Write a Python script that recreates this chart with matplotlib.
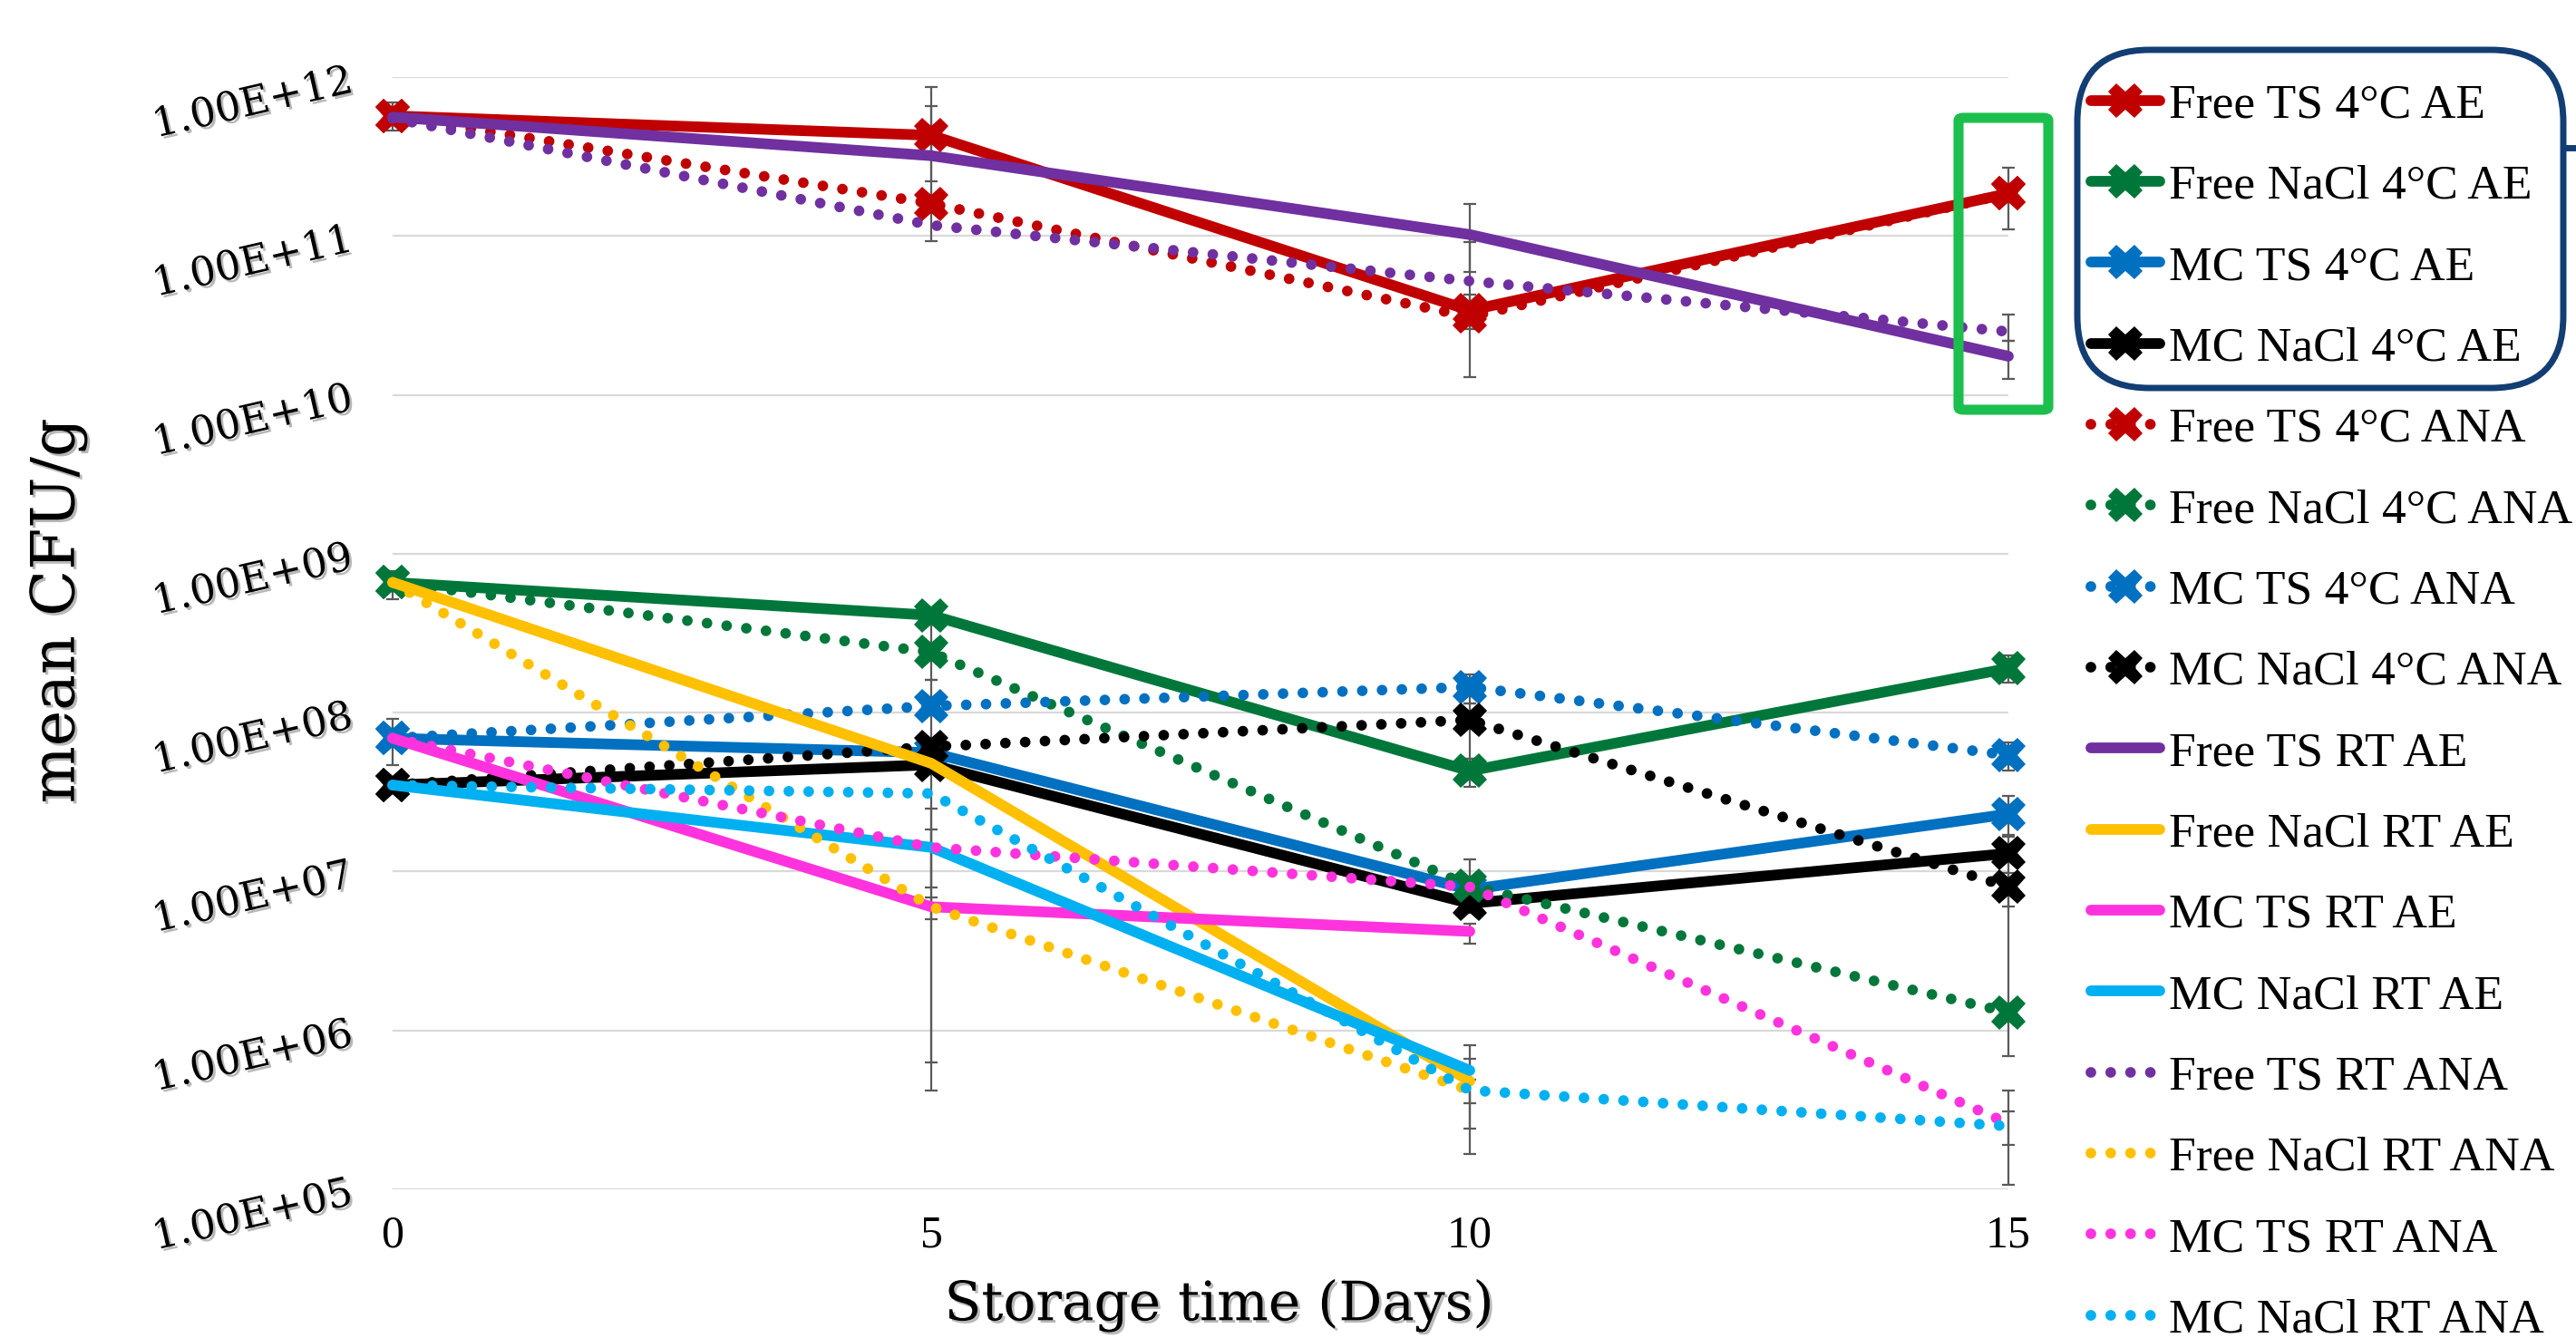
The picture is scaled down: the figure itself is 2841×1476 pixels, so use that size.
import numpy as np
import matplotlib
matplotlib.use("Agg")
import matplotlib.pyplot as plt
from matplotlib.patches import FancyBboxPatch
from matplotlib.lines import Line2D
from matplotlib.ticker import NullLocator
import matplotlib.patheffects as pe
import matplotlib.transforms as mtrans

nan = np.nan

# ---------------- data ----------------
days = [0, 5, 10, 15]
x_tick_labels = ["0", "5", "10", "15"]
y_ticks = [1e5, 1e6, 1e7, 1e8, 1e9, 1e10, 1e11, 1e12]
y_tick_labels = ["1.00E+05", "1.00E+06", "1.00E+07", "1.00E+08",
                 "1.00E+09", "1.00E+10", "1.00E+11", "1.00E+12"]

series_labels = [
    "Free TS 4°C AE", "Free NaCl 4°C AE", "MC TS 4°C AE", "MC NaCl 4°C AE",
    "Free TS 4°C ANA", "Free NaCl 4°C ANA", "MC TS 4°C ANA", "MC NaCl 4°C ANA",
    "Free TS RT AE", "Free NaCl RT AE", "MC TS RT AE", "MC NaCl RT AE",
    "Free TS RT ANA", "Free NaCl RT ANA", "MC TS RT ANA", "MC NaCl RT ANA",
]

free_ts_4c_ae = [5.7e11, 4.3e11, 3.4e10, 1.85e11]
free_nacl_4c_ae = [6.6e8, 4.1e8, 4.3e7, 1.9e8]
mc_ts_4c_ae = [6.9e7, 5.6e7, 7.7e6, 2.3e7]
mc_nacl_4c_ae = [3.5e7, 4.7e7, 6.3e6, 1.3e7]
free_ts_4c_ana = [5.7e11, 1.6e11, 3.1e10, 1.85e11]
free_nacl_4c_ana = [6.6e8, 2.4e8, 8.1e6, 1.3e6]
mc_ts_4c_ana = [6.9e7, 1.1e8, 1.45e8, 5.4e7]
mc_nacl_4c_ana = [3.5e7, 6.1e7, 9.0e7, 8.0e6]
free_ts_rt_ae = [5.6e11, 3.2e11, 1.02e11, 1.75e10]
free_nacl_rt_ae = [6.6e8, 4.8e7, 4.8e5, nan]
mc_ts_rt_ae = [6.9e7, 6.0e6, 4.2e6, nan]
mc_nacl_rt_ae = [3.5e7, 1.42e7, 5.6e5, nan]
free_ts_rt_ana = [5.5e11, 1.17e11, 5.2e10, 2.5e10]
free_nacl_rt_ana = [6.6e8, 6.0e6, 4.2e5, nan]
mc_ts_rt_ana = [6.9e7, 1.42e7, 8.0e6, 2.6e5]
mc_nacl_rt_ana = [3.5e7, 3.1e7, 4.2e5, 2.5e5]

series_values = [
    free_ts_4c_ae, free_nacl_4c_ae, mc_ts_4c_ae, mc_nacl_4c_ae,
    free_ts_4c_ana, free_nacl_4c_ana, mc_ts_4c_ana, mc_nacl_4c_ana,
    free_ts_rt_ae, free_nacl_rt_ae, mc_ts_rt_ae, mc_nacl_rt_ae,
    free_ts_rt_ana, free_nacl_rt_ana, mc_ts_rt_ana, mc_nacl_rt_ana,
]

# error bar ends (low, high) per series, nan where no bar is visible
err_low = [
    [4.6e11, 2.2e11, 2.6e10, 1.1e11],
    [5.2e8, nan, 3.4e7, 1.55e8],
    [4.7e7, nan, nan, 1.66e7],
    [nan, nan, nan, 6.0e6],
    [nan, 9.3e10, 1.3e10, nan],
    [nan, 1.6e8, 5.5e6, 6.9e5],
    [nan, nan, 1.15e8, 4.3e7],
    [nan, nan, 5.1e7, nan],
    [nan, nan, 5.9e10, 1.26e10],
    [nan, nan, nan, nan],
    [nan, 6.3e5, 3.5e6, nan],
    [nan, 5.0e6, 3.5e5, nan],
    [nan, nan, nan, 2.2e10],
    [nan, 4.2e5, 2.4e5, nan],
    [nan, 7.9e6, nan, 1.9e5],
    [nan, nan, 1.66e5, 1.07e5],
]
err_high = [
    [6.9e11, 8.7e11, 4.3e10, 2.7e11],
    [7.8e8, nan, 5.1e7, 2.3e8],
    [9.1e7, nan, nan, 3.0e7],
    [nan, nan, nan, 1.7e7],
    [nan, 6.6e11, 9.1e10, nan],
    [nan, 3.6e8, 1.2e7, 9.8e6],
    [nan, nan, 1.74e8, 6.5e7],
    [nan, nan, 1.15e8, nan],
    [nan, nan, 1.6e11, 2.2e10],
    [nan, nan, nan, nan],
    [nan, 6.9e6, 4.7e6, nan],
    [nan, 2.5e7, 8.1e5, nan],
    [nan, nan, nan, 3.2e10],
    [nan, 1.6e8, 6.6e5, nan],
    [nan, 1.85e7, nan, 4.2e5],
    [nan, nan, 4.9e5, 3.1e5],
]

colors = ["#C00000", "#00773A", "#0070C0", "#000000",
          "#C00000", "#00773A", "#0070C0", "#000000",
          "#7030A0", "#FFC000", "#FF33DD", "#00B0F0",
          "#7030A0", "#FFC000", "#FF33DD", "#00B0F0"]
dotted = [False] * 4 + [True] * 4 + [False] * 4 + [True] * 4
has_marker = [True] * 8 + [False] * 8

# ---------------- figure ----------------
W, H = 2841, 1476
DPI = 100
fig = plt.figure(figsize=(W / DPI, H / DPI), dpi=DPI)

def fx(px):
    return px / W

def fy(py):
    return 1 - py / H

x0, x1, y0, y1 = 433, 2215, 85, 1312
ax = fig.add_axes([fx(x0), fy(y1), fx(x1 - x0), (y1 - y0) / H])
ax.set_yscale("log")
ax.set_xlim(0, 15)
ax.set_ylim(1e5, 1e12)
for s in ax.spines.values():
    s.set_visible(False)
ax.set_yticks(y_ticks)
ax.yaxis.set_minor_locator(NullLocator())
ax.tick_params(axis="y", length=0, labelleft=False)
ax.grid(axis="y", color="#D9D9D9", lw=1.6, zorder=0)
ax.set_axisbelow(True)
ax.set_xticks(days)
ax.set_xticklabels(x_tick_labels, fontfamily="Liberation Serif", fontsize=36)
ax.tick_params(axis="x", length=0, pad=20)

LW = 8.5
handles = []
for i, vals in enumerate(series_values):
    v = np.array(vals, dtype=float)
    lo = np.array(err_low[i], dtype=float)
    hi = np.array(err_high[i], dtype=float)
    m = ~np.isnan(lo)
    if m.any():
        xd = np.array(days, dtype=float)[m]
        yd = v[m]
        ax.errorbar(xd, yd, yerr=[yd - lo[m], hi[m] - yd], fmt="none",
                    ecolor="#5A5A5A", elinewidth=1.6, capsize=5, capthick=1.6,
                    zorder=1.5, clip_on=False)
    kw = dict(color=colors[i], lw=LW, solid_capstyle="round",
              dash_capstyle="round", clip_on=False, zorder=2 + i * 0.01)
    if dotted[i]:
        kw["linestyle"] = (0, (0.001, 1.85))
    if has_marker[i]:
        kw.update(marker="X", markersize=28, markeredgewidth=0,
                  markerfacecolor=colors[i])
    ln, = ax.plot(days, v, label=series_labels[i], **kw)
    handles.append(ln)

# y tick labels (rotated, with shadow)
shadow = [pe.withSimplePatchShadow(offset=(2, -2), shadow_rgbFace="#7F7F7F", alpha=0.55)]
blend = mtrans.blended_transform_factory(ax.transAxes, ax.transData)
off = mtrans.ScaledTranslation(0, -29 / DPI, fig.dpi_scale_trans)
for v, t in zip(y_ticks, y_tick_labels):
    ax.text((279 - x0) / (x1 - x0), v, t, transform=blend + off,
            ha="center", va="center", rotation=13, rotation_mode="anchor",
            fontfamily="DejaVu Serif", fontsize=32, path_effects=shadow,
            clip_on=False)

fig.text(fx(64), fy(674), "mean CFU/g", rotation=90, ha="center", va="center",
         fontfamily="DejaVu Serif", fontsize=48, path_effects=shadow)
fig.text(fx(1345), fy(1440), "Storage time (Days)", ha="center", va="center",
         fontfamily="DejaVu Serif", fontsize=43, path_effects=shadow)

# legend
leg = fig.legend(handles, series_labels, loc="upper left",
                 bbox_to_anchor=(fx(2306), fy(92)), frameon=False,
                 prop={"family": "Liberation Serif", "size": 38.5},
                 handlelength=1.42, handletextpad=0.18, labelspacing=0.765,
                 borderpad=0, borderaxespad=0)

# highlight boxes
navy = "#123E74"
box = FancyBboxPatch((fx(2291), fy(428)), fx(2827 - 2291), (428 - 55) / H,
                     boxstyle="round,pad=0,rounding_size=0.028",
                     transform=fig.transFigure, fill=False, ec=navy, lw=5,
                     mutation_aspect=W / H)
fig.add_artist(box)
fig.add_artist(Line2D([fx(2827), fx(2841)], [fy(163), fy(163)],
                      transform=fig.transFigure, color=navy, lw=5))
gbox = FancyBboxPatch((fx(2160), fy(452)), fx(2259 - 2160), (452 - 130) / H,
                      boxstyle="round,pad=0,rounding_size=0.002",
                      transform=fig.transFigure, fill=False, ec="#1CBF4E", lw=8,
                      zorder=5)
fig.add_artist(gbox)

fig.savefig("out.png", dpi=DPI, facecolor="white")
